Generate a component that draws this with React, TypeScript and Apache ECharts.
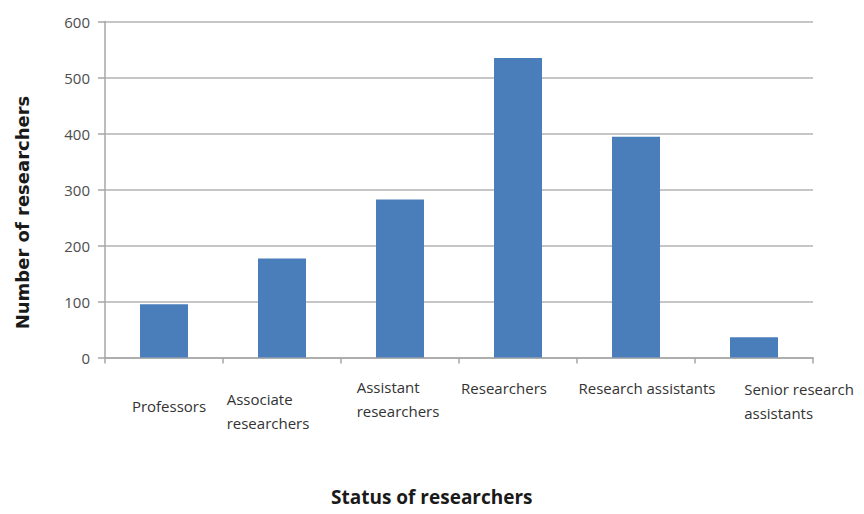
import React, { useEffect, useRef } from "react";
import * as echarts from "echarts";

const categories = [
  "Professors",
  "Associate\nresearchers",
  "Assistant\nresearchers",
  "Researchers",
  "Research assistants",
  "Senior research\nassistants",
];
const researcherCounts = [95, 177, 282, 535, 394, 36];
const yTicks = { min: 0, max: 600, interval: 100 };
const yAxisTitle = "Number of researchers";
const xAxisTitle = "Status of researchers";

// label layout (offsets from the axis, in px) — styling only
const labelTop = [36, 29, 17, 18, 18, 19];
const labelShift = [5, -14, -2, -14, 11, 45];

export default function App() {
  const ref = useRef<HTMLDivElement>(null);
  useEffect(() => {
    document.body.style.margin = "0";
    const chart = echarts.init(ref.current!, undefined, { renderer: "svg" });
    const rich: Record<string, any> = {
      t: {
        fontFamily: "'Open Sans', sans-serif",
        fontSize: 15,
        lineHeight: 24,
        color: "#333333",
        align: "left",
      },
    };
    labelTop.forEach((h, i) => {
      rich["v" + i] = { height: h, lineHeight: h, align: "left" };
      rich["h" + i] = { width: Math.abs(labelShift[i]) * 2, height: 1, lineHeight: 1, align: "left" };
    });
    chart.setOption({
      animation: false,
      grid: { left: 105, right: 51, top: 21.5, bottom: 156.5 },
      title: {
        text: xAxisTitle,
        left: 326,
        top: 482,
        textStyle: {
          fontFamily: "'Open Sans', sans-serif",
          fontWeight: "bold",
          fontSize: 19,
          color: "#1a1a1a",
        },
      },
      xAxis: {
        type: "category",
        data: categories,
        axisLine: { lineStyle: { color: "#a6a6a6", width: 1.5 } },
        axisTick: { show: true, length: 6, lineStyle: { color: "#a6a6a6", width: 1.5 } },
        axisLabel: {
          interval: 0,
          margin: 0,
          lineHeight: 1,
          fontSize: 1,
          formatter: (value: string, idx: number) => {
            const s = labelShift[idx];
            const lines = value.split("\n").map((ln) =>
              s >= 0 ? `{h${idx}|}{t|${ln}}` : `{t|${ln}}{h${idx}|}`
            );
            return `{v${idx}|}\n` + lines.join("\n");
          },
          rich,
        },
      },
      yAxis: {
        type: "value",
        min: yTicks.min,
        max: yTicks.max,
        interval: yTicks.interval,
        name: yAxisTitle,
        nameLocation: "middle",
        nameRotate: 90,
        nameGap: 74,
        nameTextStyle: {
          fontFamily: "'DejaVu Sans', sans-serif",
          fontWeight: "bold",
          fontSize: 18,
          color: "#1a1a1a",
          padding: [0, 46, 0, 0],
        },
        axisLine: { show: true, lineStyle: { color: "#a6a6a6", width: 1.5 } },
        axisTick: { show: true, length: 7, lineStyle: { color: "#a6a6a6", width: 1.5 } },
        axisLabel: {
          margin: 15,
          fontFamily: "'Open Sans', sans-serif",
          fontSize: 15,
          color: "#4d4d4d",
        },
        splitLine: { show: true, lineStyle: { color: "#b3b3b3", width: 1.5 } },
      },
      series: [
        {
          type: "bar",
          data: researcherCounts,
          barWidth: 48,
          itemStyle: { color: "#4a7ebb" },
        },
      ],
    });
    return () => chart.dispose();
  }, []);
  return <div ref={ref} style={{ width: 864, height: 514 }} />;
}
